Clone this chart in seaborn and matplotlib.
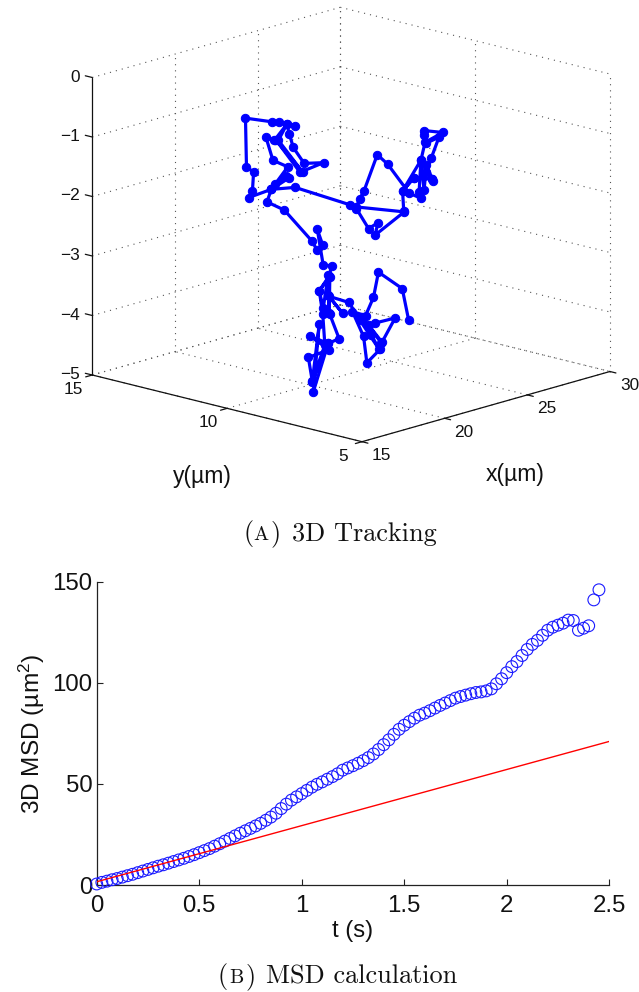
import numpy as np
import matplotlib
matplotlib.use('Agg')
import matplotlib.pyplot as plt
import seaborn as sns

# --- data ---
# bead track (um). Depth along y can't be seen in a single view, so y is a rough guess per stretch.
track_x = [24.34,23.96,22.52,22.22,21.74,20.95,21.62,21.82,22.64,22.75,21.94,22.33,23.53,22.70,21.55,22.09,22.54,21.38,20.74,19.52,20.35,19.48,19.58,20.14,19.48,18.38,19.54,18.28,18.52,18.94,18.58,19.48,18.49,19.28,19.15,18.94,19.18,19.48,19.54,19.58,18.94,19.54,19.69,19.18,18.82,19.15,18.79,18.52,
           20.09,19.04,19.30,20.39,20.20,19.55,19.30,17.93,18.16,18.23,17.80,17.74,19.36,19.76,20.74,20.24,20.39,20.63,21.29,22.46,21.04,19.60,21.20,19.73,20.24,19.49,18.98,19.40,20.30,19.30,20.74,
           20.78,21.19,21.92,22.48,22.33,24.08,21.19,21.38,21.64,22.45,23.08,24.38,25.09,24.98,25.09,25.28,25.42,25.78,25.82,25.42,25.72,26.18,25.40,25.28,25.30,26.42,25.34,25.09,23.98,24.68,25.76,24.68,23.98,24.05]
track_y = [9,9,9,9,9,9,9,9,9,9,9,9,9,9,9,9,9,9,9,9,9,9,9,9,9,9,9,9,9,9,9,9,9,9,9,9,9,9,9,9,9,9,9,9,9,9,9,9,
           11,11,11,11,11,11,11,11,11,11,11,11,11,11,11,11,11,11,11,11,11,11,11,11,11,11,11,11,11,11,11,
           9,9,9,9,9,9,9,9,9,9,9,9,9,9,9,9,9,9,9,9,9,9,9,9,9,9,9,9,9,9,9,9,9,9]
track_z = [-4.13,-3.58,-3.19,-3.59,-3.86,-3.73,-4.20,-4.66,-4.49,-4.39,-4.04,-4.03,-4.04,-4.40,-3.86,-4.21,-4.48,-3.90,-3.56,-3.36,-3.71,-3.34,-3.67,-4.12,-4.15,-3.94,-4.26,-4.29,-4.71,-3.78,-4.89,-4.15,-4.72,-4.16,-3.63,-3.22,-3.53,-3.00,-3.65,-3.04,-3.22,-3.02,-2.86,-2.81,-2.18,-2.47,-2.52,-2.36,
           -2.18,-1.96,-1.77,-1.66,-1.62,-1.70,-1.77,-1.80,-1.71,-1.40,-1.27,-0.45,-0.64,-0.67,-0.81,-0.75,-0.92,-1.17,-1.49,-1.57,-1.62,-0.97,-1.63,-0.98,-0.75,-0.96,-0.87,-1.29,-1.47,-1.77,-1.85,
           -1.92,-2.02,-2.41,-2.36,-2.55,-2.30,-1.99,-1.87,-1.76,-1.21,-1.42,-2.01,-2.15,-2.03,-1.51,-2.03,-1.62,-1.88,-1.92,-1.74,-1.52,-1.21,-1.25,-1.11,-1.03,-1.15,-1.23,-1.51,-1.94,-1.77,-1.88,-1.77,-1.94,-2.29]

x_ticks = [15, 20, 25, 30]
y_ticks = [5, 10, 15]
z_ticks = [0, -1, -2, -3, -4, -5]

msd_t = [0,.025,.05,.075,.1,.125,.15,.175,.2,.225,.25,.275,.3,.325,.35,.375,.4,.425,.45,.475,
         .5,.525,.55,.575,.6,.625,.65,.675,.7,.725,.75,.775,.8,.825,.85,.875,.9,.925,.95,.975,
         1,1.025,1.05,1.075,1.1,1.125,1.15,1.175,1.2,1.225,1.25,1.275,1.3,1.325,1.35,1.375,1.4,1.425,1.45,1.475,
         1.5,1.525,1.55,1.575,1.6,1.625,1.65,1.675,1.7,1.725,1.75,1.775,1.8,1.825,1.85,1.875,1.9,1.925,1.95,1.975,
         2,2.025,2.05,2.075,2.1,2.125,2.15,2.175,2.2,2.225,2.25,2.275,2.3,2.325,2.35,2.375,2.4,2.425,2.45]
msd_val = [0.5,1.3,1.9,2.6,3.2,3.9,4.6,5.3,6.1,6.9,7.7,8.5,9.3,10.0,10.8,11.6,12.4,13.2,14.1,15.0,
           16.0,17.0,18.0,19.2,20.4,21.7,23.0,24.3,25.6,26.8,28.0,29.2,30.5,32.0,33.6,35.5,37.8,40.0,42.0,43.6,
           45.2,46.8,48.4,49.8,51.0,52.3,53.6,55.0,56.8,57.9,59.0,60.2,61.5,63.0,64.8,67.0,69.4,71.8,74.5,77.0,
           79.0,80.8,82.5,84.0,85.0,86.2,87.5,88.8,90.0,91.2,92.4,93.2,93.9,94.6,95.2,95.5,96.0,97.0,99.5,102.0,
           105.0,108.0,110.5,113.5,116.5,119.0,121.0,123.5,126.0,127.5,128.5,129.5,131.0,130.8,126.0,127.0,128.2,141.0,146.0]
fit_t = [0, 2.5]
fit_val = [1.6, 71]

sns.set_theme(style='white')
plt.rcParams['font.family'] = ['Liberation Sans']
plt.rcParams['mathtext.fontset'] = 'custom'
plt.rcParams['mathtext.rm'] = 'Liberation Sans'
plt.rcParams['mathtext.default'] = 'rm'

W, H = 639, 992
fig = plt.figure(figsize=(W / 100, H / 100), dpi=100)

# canvas axes in pixels, holds the 3D view and the captions
ax3d = fig.add_axes([0, 0, 1, 1])
ax3d.set_xlim(0, W)
ax3d.set_ylim(H, 0)
ax3d.axis('off')


def project(x, y, z):
    # orthographic view, same as the original 3D axes
    x, y, z = np.asarray(x, float), np.asarray(y, float), np.asarray(z, float)
    sx = 362 + 16.533 * (x - 15) - 26.97 * (y - 5)
    sy = 441.7 - 4.68 * (x - 15) - 6.67 * (y - 5) - 59.5 * (z + 5)
    return sx, sy


def seg(p, q, **kw):
    a, b = project(*p), project(*q)
    ax3d.plot([a[0], b[0]], [a[1], b[1]], **kw)


dots = dict(color='#555555', lw=0.8, ls=(0, (1, 4.5)), zorder=1)
for xv in x_ticks:
    seg((xv, 5, -5), (xv, 15, -5), **dots)
    if xv > 15:
        seg((xv, 15, -5), (xv, 15, 0), **dots)
for yv in y_ticks:
    seg((15, yv, -5), (30, yv, -5), **dots)
    seg((30, yv, -5), (30, yv, 0), **dots)
for zv in z_ticks:
    seg((15, 15, zv), (30, 15, zv), **dots)
    seg((30, 15, zv), (30, 5, zv), **dots)

# solid box edges and ticks
solid = dict(color='#111111', lw=0.9, zorder=2)
seg((15, 5, -5), (30, 5, -5), **solid)
seg((15, 5, -5), (15, 15, -5), **solid)
seg((15, 15, -5), (15, 15, 0), **solid)
for xv in x_ticks:
    seg((xv, 5, -5), (xv, 4.78, -5), **solid)
for yv in y_ticks:
    seg((15, yv, -5), (14.6, yv, -5), **solid)
for zv in z_ticks:
    sx, sy = project(15, 15, zv)
    ax3d.plot([sx - 7, sx], [sy - 1.7, sy], **solid)
    ax3d.text(sx - 12, sy - 0.5, str(zv).replace('-', '\u2212'), ha='right', va='center', fontsize=12.4, color='#111111')

for xv in x_ticks:
    sx, sy = project(xv, 5, -5)
    ax3d.text(sx + 19.5, sy + 14, str(xv), ha='center', va='center', fontsize=12.4, color='#111111')
for yv in y_ticks:
    sx, sy = project(15, yv, -5)
    ax3d.text(sx - 18.5, sy + 14.5, str(yv), ha='center', va='center', fontsize=12.4, color='#111111')

ax3d.text(202, 476, 'y(\u00b5m)', ha='center', va='center', fontsize=16.5, color='#111111')
ax3d.text(515, 475, 'x(\u00b5m)', ha='center', va='center', fontsize=16.5, color='#111111')

px, py = project(track_x, track_y, track_z)
sns.lineplot(x=px, y=py, sort=False, estimator=None, ax=ax3d, color='#0000ff', lw=2.3,
             marker='o', markersize=6, markeredgecolor='#0000ff', zorder=5)
ax3d.set_xlim(0, W)
ax3d.set_ylim(H, 0)
ax3d.axis('off')

# captions, small caps faked with a smaller letter
cap = dict(family='cmr10', va='center', color='#111111')
ax3d.text(244, 534, '(', fontsize=18.9, **cap)
ax3d.text(253.5, 535, 'A', fontsize=14.5, **cap)
ax3d.text(271, 534, ')', fontsize=18.9, **cap)
ax3d.text(292, 534, '3D Tracking', fontsize=18.9, **cap)
ax3d.text(218, 977, '(', fontsize=18.9, **cap)
ax3d.text(229, 978, 'B', fontsize=14.5, **cap)
ax3d.text(246, 977, ')', fontsize=18.9, **cap)
ax3d.text(266, 977, 'MSD calculation', fontsize=18.9, **cap)

# --- MSD panel ---
ax = fig.add_axes([96.7 / W, (H - 885) / H, 512.5 / W, 303.3 / H])
ax.patch.set_alpha(0)
sns.scatterplot(x=msd_t, y=msd_val, ax=ax, marker='o', s=72, facecolors='none',
                edgecolor='#1a1aff', linewidth=0.8, clip_on=False, zorder=3)
sns.lineplot(x=fit_t, y=fit_val, ax=ax, color='#ff0000', lw=1.0, zorder=4)
ax.set_xlim(0, 2.5)
ax.set_ylim(0, 150)
ax.set_xticks([0, 0.5, 1, 1.5, 2, 2.5])
ax.set_xticklabels(['0', '0.5', '1', '1.5', '2', '2.5'])
ax.set_yticks([0, 50, 100, 150])
ax.tick_params(direction='in', length=4.5, width=0.8, color='#222222', labelsize=17.3, labelcolor='#111111',
               bottom=True, left=True, pad=3)
ax.tick_params(axis='x', pad=7.5)
sns.despine(ax=ax)
for s in ('left', 'bottom'):
    ax.spines[s].set_linewidth(0.9)
    ax.spines[s].set_color('#222222')
ax.set_xlabel('t (s)', fontsize=17.3, color='#111111', labelpad=2)
ax.set_ylabel('3D MSD (\u00b5m$^2$)', fontsize=17.6, color='#111111', labelpad=4)

fig.savefig('out.png', dpi=100)
